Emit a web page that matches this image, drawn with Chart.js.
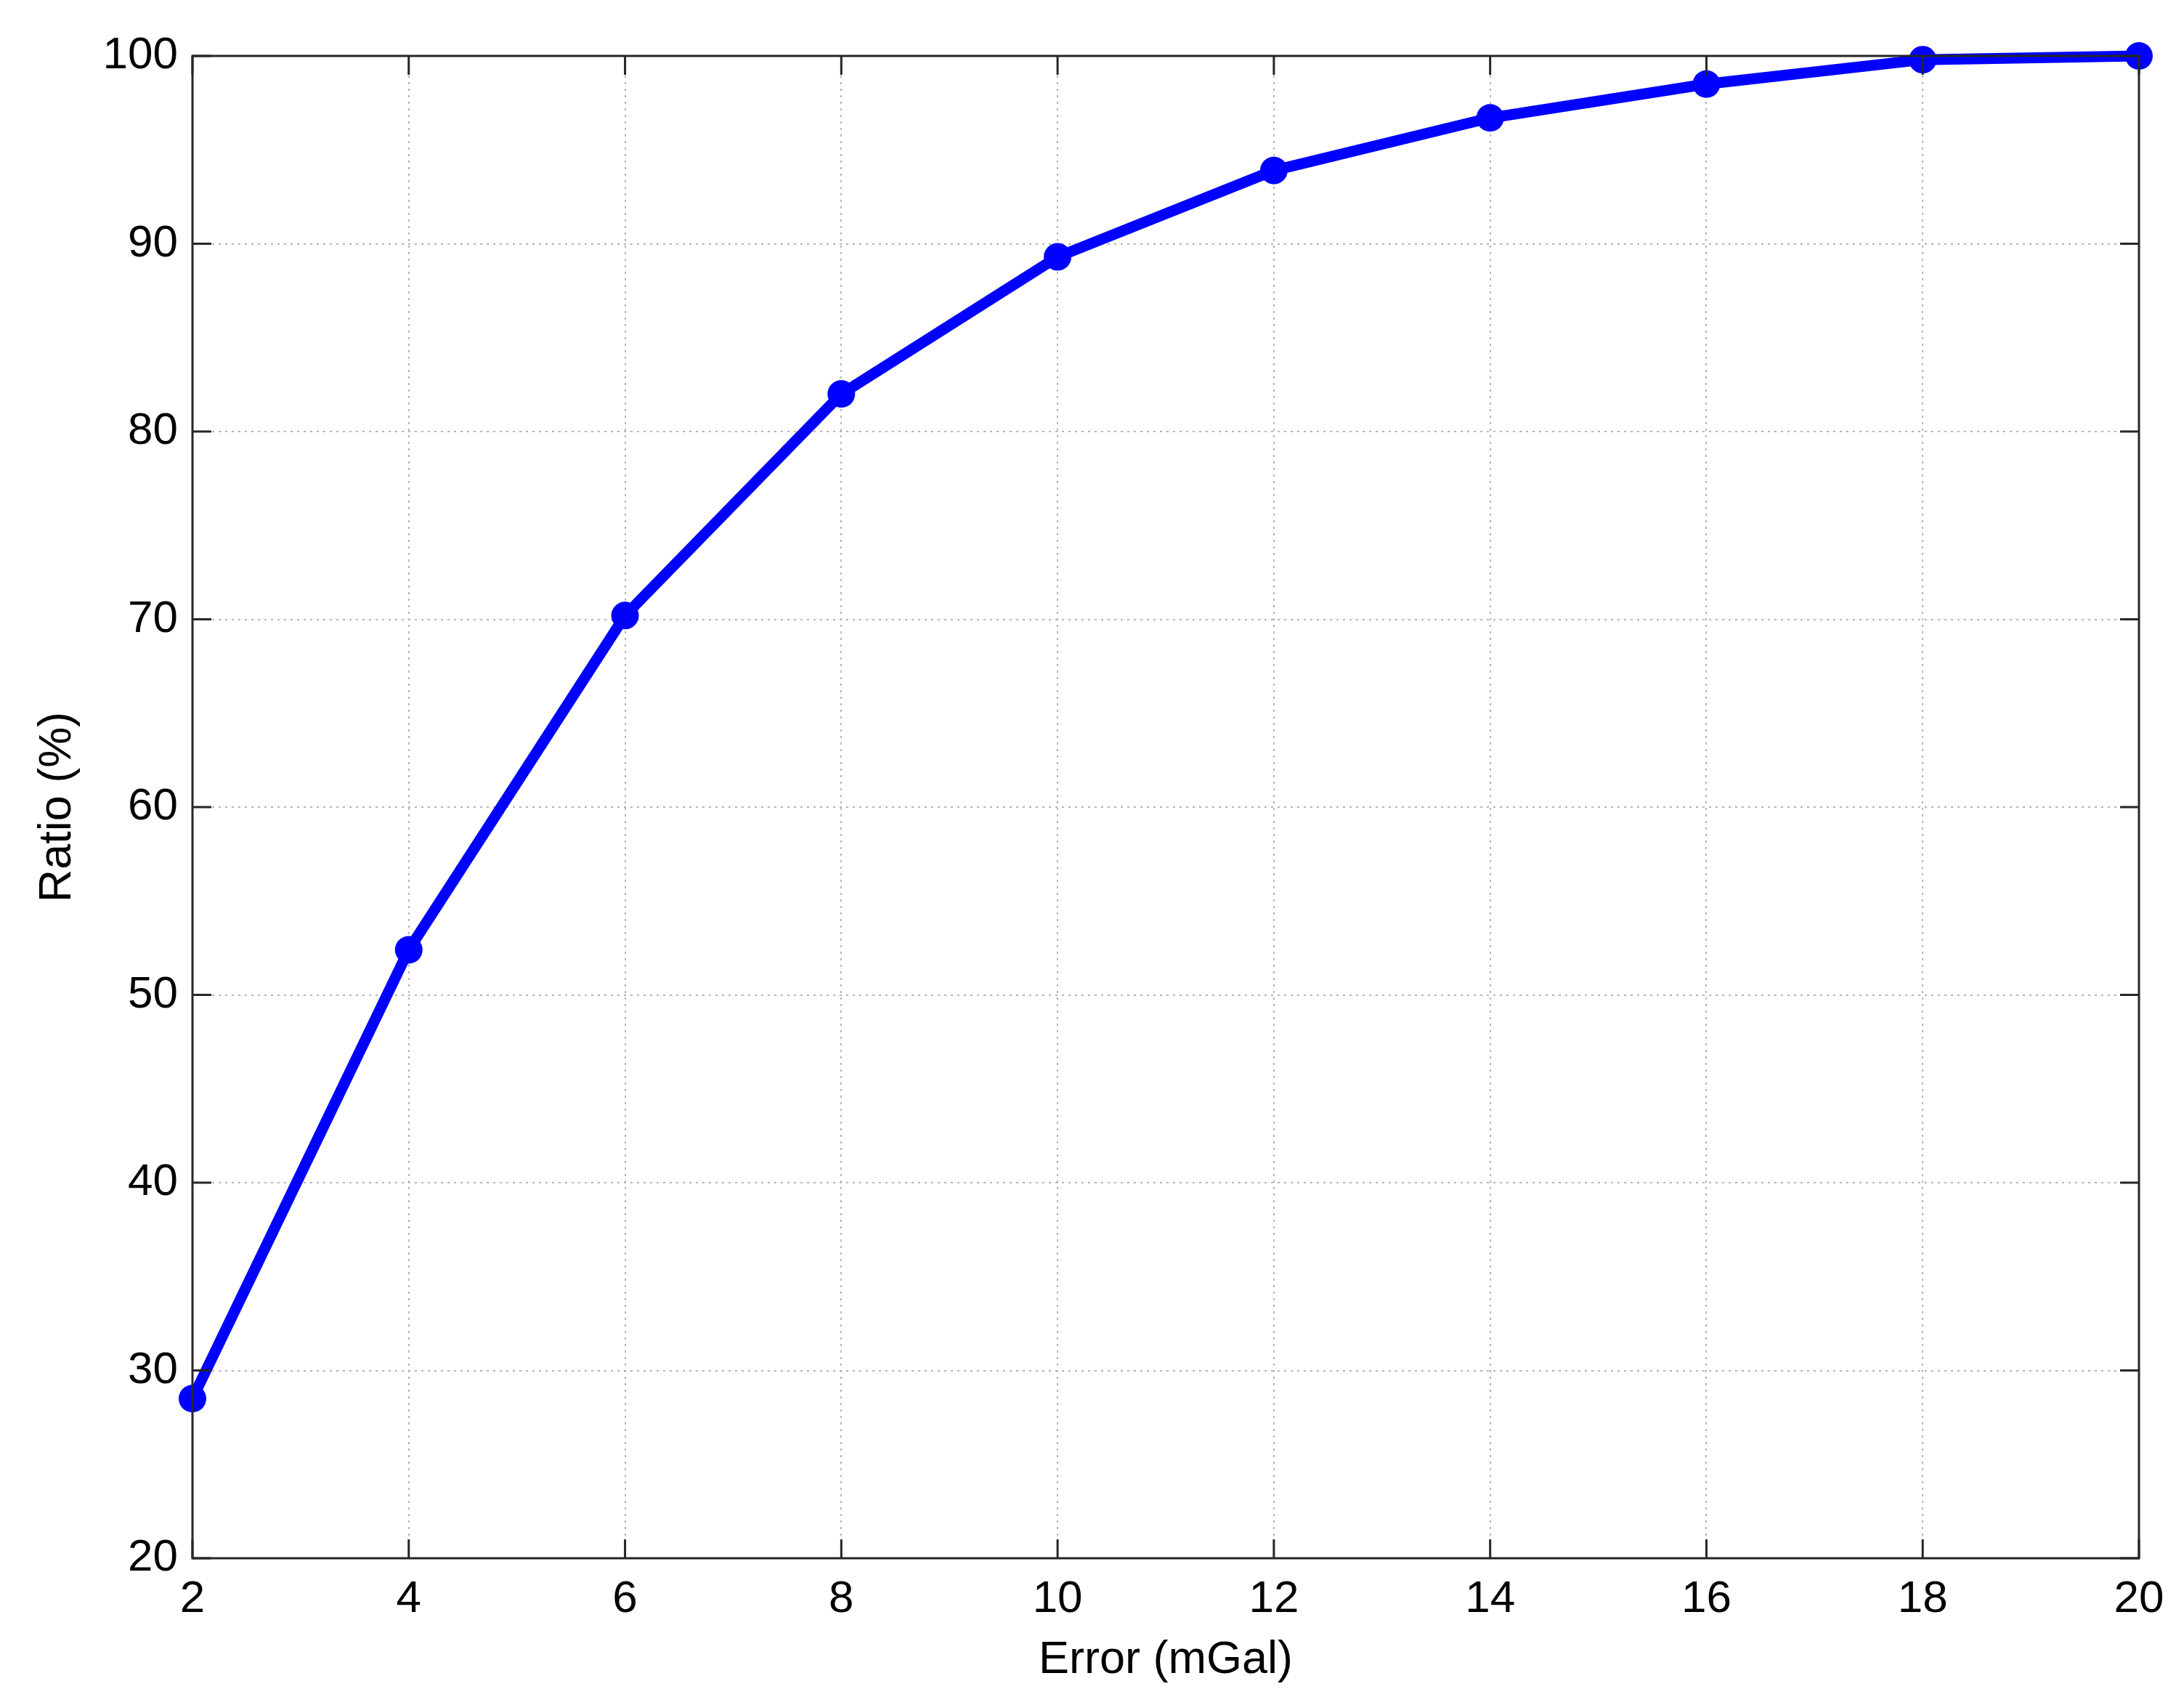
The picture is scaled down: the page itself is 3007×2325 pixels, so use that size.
<!DOCTYPE html>
<html>
<head>
<meta charset="utf-8">
<script src="https://cdn.jsdelivr.net/npm/chart.js@4/dist/chart.umd.min.js"></script>
<style>
  html, body { margin: 0; padding: 0; background: #fff; }
  #wrap { width: 3007px; height: 2325px; }
</style>
</head>
<body>
<div id="wrap"><canvas id="chart" width="3007" height="2325"></canvas></div>
<script>
// values
const errorLevels = [2, 4, 6, 8, 10, 12, 14, 16, 18, 20];
const ratioValues = [28.5, 52.4, 70.2, 82.0, 89.3, 93.9, 96.7, 98.5, 99.8, 100];
const xTicks = [2, 4, 6, 8, 10, 12, 14, 16, 18, 20];
const yTicks = [20, 30, 40, 50, 60, 70, 80, 90, 100];

const fontFamily = "'Liberation Sans', Arial, Helvetica, sans-serif";

// matlab style box with inward ticks on all four sides
const boxPlugin = {
  id: "box",
  afterDatasetsDraw(chart) {
    const ctx = chart.ctx;
    const area = chart.chartArea;
    const xs = chart.scales.x;
    const ys = chart.scales.y;
    const tickLen = 26;
    ctx.save();
    ctx.strokeStyle = "#262626";
    ctx.lineWidth = 3;
    ctx.beginPath();
    xTicks.forEach((v) => {
      const px = xs.getPixelForValue(v);
      ctx.moveTo(px, area.bottom);
      ctx.lineTo(px, area.bottom - tickLen);
      ctx.moveTo(px, area.top);
      ctx.lineTo(px, area.top + tickLen);
    });
    yTicks.forEach((v) => {
      const py = ys.getPixelForValue(v);
      ctx.moveTo(area.left, py);
      ctx.lineTo(area.left + tickLen, py);
      ctx.moveTo(area.right, py);
      ctx.lineTo(area.right - tickLen, py);
    });
    ctx.stroke();
    ctx.strokeRect(area.left, area.top, area.right - area.left, area.bottom - area.top);
    ctx.restore();
  }
};

const ctx = document.getElementById("chart").getContext("2d");
new Chart(ctx, {
  type: "line",
  data: {
    datasets: [
      {
        data: errorLevels.map((x, i) => ({ x: x, y: ratioValues[i] })),
        borderColor: "#0000ff",
        backgroundColor: "#0000ff",
        borderWidth: 15,
        pointRadius: 19,
        pointHoverRadius: 19,
        pointBorderWidth: 0,
        pointBackgroundColor: "#0000ff",
        tension: 0,
        clip: false,
      },
    ],
  },
  options: {
    responsive: false,
    animation: false,
    devicePixelRatio: 1,
    layout: { padding: { top: 77, right: 62, left: 0, bottom: 0 } },
    plugins: {
      legend: { display: false },
      tooltip: { enabled: false },
    },
    scales: {
      x: {
        type: "linear",
        min: 2,
        max: 20,
        afterBuildTicks: (scale) => {
          scale.ticks = xTicks.map((v) => ({ value: v }));
        },
        afterFit: (scale) => {
          scale.height = 180;
        },
        ticks: {
          color: "#000",
          padding: 20,
          maxRotation: 0,
          font: { family: fontFamily, size: 62 },
        },
        grid: {
          color: "#b4b4b4",
          lineWidth: 2,
          drawTicks: false,
        },
        border: { display: false, dash: [3, 6] },
        title: {
          display: true,
          text: "Error (mGal)",
          color: "#000",
          padding: { top: 0, bottom: 2 },
          font: { family: fontFamily, size: 63 },
        },
      },
      y: {
        type: "linear",
        min: 20,
        max: 100,
        afterBuildTicks: (scale) => {
          scale.ticks = yTicks.map((v) => ({ value: v }));
        },
        afterFit: (scale) => {
          scale.width = 265;
        },
        ticks: {
          color: "#000",
          padding: 20,
          font: { family: fontFamily, size: 62 },
        },
        grid: {
          color: "#b4b4b4",
          lineWidth: 2,
          drawTicks: false,
        },
        border: { display: false, dash: [3, 6] },
        title: {
          display: true,
          text: "Ratio (%)",
          color: "#000",
          padding: { top: 42, bottom: 0 },
          font: { family: fontFamily, size: 63 },
        },
      },
    },
  },
  plugins: [boxPlugin],
});
</script>
</body>
</html>
